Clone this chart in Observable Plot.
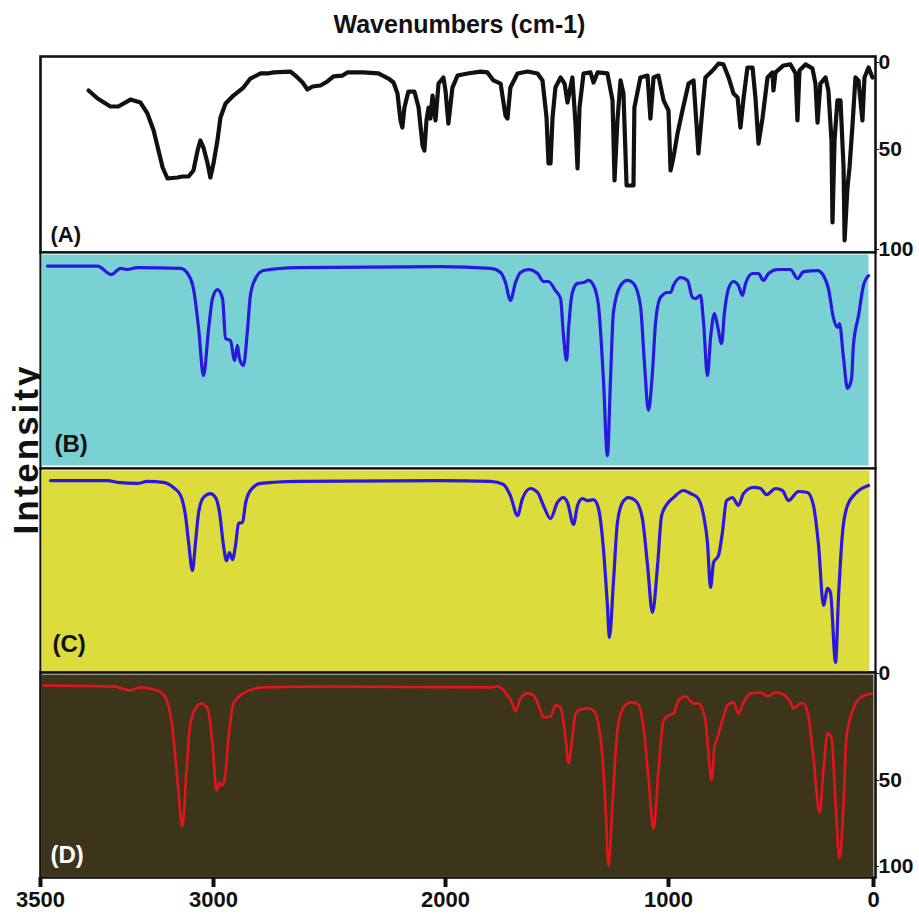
<!DOCTYPE html>
<html><head><meta charset="utf-8">
<script src="https://cdn.jsdelivr.net/npm/d3@7"></script>
<script src="https://cdn.jsdelivr.net/npm/@observablehq/plot@0.6"></script>
<style>
body{margin:0;background:#fff;}
#fig{position:relative;width:919px;height:915px;overflow:hidden;background:#fff;font-family:"Liberation Sans",Arial,sans-serif;}
#fig svg{position:absolute;left:0;top:0;}
.title{position:absolute;left:0;width:919px;top:12px;text-align:center;font-weight:bold;font-size:25px;line-height:25px;color:#111;}
.ylab{position:absolute;left:25px;top:449px;transform:translate(-50%,-50%) rotate(-90deg);font-weight:bold;font-size:35px;letter-spacing:3px;line-height:35px;white-space:nowrap;color:#111;}
</style></head>
<body><div id="fig"><div class="title">Wavenumbers (cm-1)</div><div class="ylab">Intensity</div></div>
<script>
// ---- data ----
const xTicks = [3500, 3000, 2000, 1000, 0];
const yTicks = [0, 50, 100];
const panelLabels = ["(A)", "(B)", "(C)", "(D)"];

const waveA = [3361,3335,3298,3275,3240,3211,3191,3173,3159,3147,3133,3104,3090,3072,3058,3046,3038,3029,3017,3009,3000,2983,2970,2948,2914,2871,2841,2797,2767,2741,2668,2638,2616,2595,2573,2539,2509,2483,2444,2423,2354,2289,2246,2224,2207,2194,2186,2177,2160,2134,2116,2099,2091,2082,2073,2065,2056,2043,2030,2009,2000,1987,1969,1946,1901,1843,1812,1785,1753,1731,1722,1709,1677,1632,1587,1565,1547,1538,1529,1520,1507,1484,1466,1453,1431,1417,1408,1399,1381,1350,1336,1318,1274,1251,1242,1229,1215,1202,1188,1157,1153,1126,1094,1081,1067,1045,1022,1000,990,976,956,932,902,878,859,854,834,820,785,756,732,707,683,663,649,634,615,590,576,561,541,517,493,488,478,439,405,380,371,361,332,298,283,273,259,234,220,205,200,190,176,161,146,141,127,117,102,88,73,54,44,24,5];
const intensityA = [16.1,20.7,25.3,25.3,21.3,23.0,29.3,39.1,50.5,59.0,64.5,64.0,63.5,63.5,60.5,50.5,44.8,48.9,57.0,64.0,57.0,44.8,31.6,23.6,19.0,14.4,9.2,6.3,6.3,5.7,5.2,8.6,11.5,15.5,13.8,13.2,10.9,8.0,7.5,5.7,5.7,6.3,9.2,11.5,17.8,33.3,37.4,25.9,16.7,16.7,25.9,47.7,50.5,33.3,25.9,32.2,19.0,33.3,12.1,8.6,16.1,35.1,14.4,7.5,6.3,5.2,5.7,10.3,12.1,30.5,32.2,14.4,6.3,5.2,6.3,10.3,31.6,57.0,57.0,31.6,14.4,8.6,12.1,23.0,8.6,35.1,59.5,25.9,6.3,5.7,11.5,5.7,6.3,21.8,65.5,33.3,10.3,17.8,68.0,68.0,25.9,8.6,7.5,32.2,8.6,7.5,21.8,27.6,60.5,54.0,40.8,27.6,12.1,10.3,43.1,52.0,25.9,8.6,4.6,0.6,1.1,8.6,17.8,20.1,37.4,20.7,2.9,2.9,20.1,46.6,31.6,8.6,5.7,16.1,5.7,1.7,1.1,6.3,33.3,4.6,1.1,3.4,12.1,34.5,12.1,8.6,16.1,44.8,86.5,44.8,21.8,21.8,59.0,95.5,69.0,59.0,35.1,8.6,10.3,33.3,8.6,2.9,8.6];

const waveB = [3480,3335,3295,3269,3249,3220,3095,3075,3058,3043,3029,3014,3003,2983,2961,2948,2927,2909,2897,2888,2871,2853,2841,2819,2785,2638,2022,1798,1753,1731,1709,1686,1664,1628,1587,1561,1538,1507,1484,1471,1457,1448,1431,1408,1381,1359,1336,1314,1292,1274,1260,1247,1215,1184,1157,1126,1108,1090,1072,1058,1036,1004,990,976,941,907,883,868,844,829,810,795,776,761,741,727,707,683,659,639,624,590,561,537,512,468,405,371,341,273,244,220,195,176,166,146,127,107,98,73,49,24];
const intensityB = [5.5,5.5,9.5,6.6,7.1,6.2,6.6,9.0,16.1,35.1,57.4,35.1,20.9,16.6,20.9,39.8,40.8,50.2,43.1,49.3,52.6,35.1,19.4,11.4,7.6,6.2,5.7,6.6,8.5,13.3,21.8,13.3,8.5,7.1,9.0,12.8,12.8,17.1,20.9,38.4,50.2,35.1,18.0,13.7,13.3,12.3,14.7,24.2,58.8,95.3,58.8,27.5,14.7,12.3,13.7,24.2,51.2,73.9,55.9,32.2,20.4,18.0,18.0,14.7,10.9,12.3,20.4,20.9,19.4,32.2,57.4,39.8,28.0,33.7,42.2,27.5,16.1,12.8,14.7,19.4,13.7,9.0,9.0,12.3,9.0,7.1,7.1,11.4,8.1,7.6,10.0,16.1,30.3,34.6,32.7,49.3,63.5,58.8,43.1,28.9,14.7,10.0];

const waveC = [3471,3306,3277,3220,3191,3145,3116,3095,3081,3072,3061,3052,3043,3029,3009,2991,2974,2957,2944,2931,2918,2905,2892,2875,2862,2841,2797,2638,2022,1798,1740,1709,1677,1655,1619,1587,1561,1529,1498,1471,1453,1426,1408,1386,1363,1336,1314,1292,1274,1265,1247,1229,1206,1180,1148,1117,1094,1072,1049,1031,1004,976,927,893,859,829,810,795,780,756,737,717,688,659,634,585,551,522,478,444,415,366,322,293,268,244,224,210,185,171,151,127,88,24];
const intensityC = [5.0,5.0,5.9,6.4,5.4,5.9,8.4,12.4,22.3,35.6,49.5,35.6,20.8,13.4,11.4,13.4,20.8,37.1,44.6,40.6,44.1,37.1,26.2,25.7,16.3,9.9,6.4,5.4,5.0,5.4,6.9,12.4,22.3,13.9,8.9,10.9,17.3,23.8,15.8,13.4,15.8,26.7,17.3,13.9,14.9,14.4,18.8,38.6,66.8,82.7,55.4,25.7,15.8,13.4,14.9,23.8,47.0,70.3,47.0,22.3,16.3,13.4,9.9,11.4,13.4,22.3,35.6,57.9,45.5,42.1,30.7,14.9,13.4,17.3,11.4,8.4,8.9,11.9,8.9,9.9,14.9,10.4,10.9,17.3,37.1,66.8,58.4,60.4,95.0,63.4,30.7,17.3,11.4,7.4];

const waveD = [3491,3289,3240,3211,3162,3139,3119,3104,3090,3078,3067,3046,3035,3017,3003,2987,2974,2966,2953,2935,2914,2866,2780,2496,1798,1767,1731,1700,1686,1664,1632,1605,1574,1561,1529,1507,1484,1462,1448,1431,1417,1395,1363,1336,1305,1283,1269,1251,1229,1202,1170,1139,1112,1090,1067,1045,1022,1000,976,951,917,878,854,820,805,790,776,761,737,712,683,659,634,600,551,517,478,439,405,390,356,341,317,293,263,244,224,205,185,166,146,132,102,63,10];
const intensityD = [5.6,6.1,7.9,6.5,7.9,11.2,25.2,50.0,76.7,45.3,23.4,14.9,14.0,16.3,32.7,55.8,51.2,52.9,50.0,29.9,14.0,8.9,6.5,6.1,6.5,6.1,8.9,14.0,17.7,11.7,9.3,10.3,17.3,20.5,20.1,14.9,15.9,29.9,42.0,29.9,18.7,16.8,16.3,17.3,29.9,63.4,99.5,63.4,26.6,15.9,13.5,14.0,25.2,48.6,78.1,45.3,21.9,19.6,18.7,12.6,10.7,14.0,14.0,21.9,37.4,50.0,34.6,29.9,21.9,14.9,13.5,18.7,13.5,9.3,8.9,10.7,8.9,9.8,13.5,16.3,14.0,14.0,20.5,39.3,68.6,45.3,28.0,29.9,63.4,95.3,63.4,29.9,17.3,11.2,9.3];

// ---- layout (scale options) ----
const W = 919, H = 915;
const FONT = "'Liberation Sans', Arial, Helvetica, sans-serif";
const xScale = {type: "linear", domain: xTicks, range: [40, 213, 445, 668, 873]};

function rightAxis() {
  return Plot.axisY({anchor: "right", ticks: yTicks, tickSize: 3, tickPadding: 0, fontSize: 21, fontWeight: "bold", fill: "#111", stroke: "#111", label: null});
}
function bottomAxis() {
  return Plot.axisX({anchor: "bottom", ticks: xTicks, tickFormat: d => String(d), tickSize: 10, tickPadding: 4, strokeWidth: 4, fontSize: 22, fontWeight: "bold", fill: "#111", stroke: "#111", label: null});
}

function panel(o) {
  const rows = o.wave.map((w, i) => ({w, v: o.value[i]}));
  const marks = [
    Plot.frame({fill: "white", stroke: "#111", strokeWidth: o.frameWidth || 2.2}),
    o.bg ? Plot.frame({fill: o.bg, ...o.inset}) : null,
    Plot.line(rows, {x: "w", y: "v", stroke: o.color, strokeWidth: o.lineWidth, curve: o.curve, strokeLinejoin: "round", strokeLinecap: "round"}),
    Plot.text([o.label], {text: d => d, frameAnchor: "bottom-left", lineAnchor: "middle", textAnchor: "start", dx: o.dx, dy: o.dy, fontSize: o.fontSize, fontWeight: "bold", fill: o.labelColor}),
    ...(o.axes || [])
  ];
  return Plot.plot({
    width: W, height: H,
    marginLeft: 40, marginRight: W - 875, marginTop: o.top, marginBottom: H - o.bottom,
    style: {background: "transparent", fontFamily: FONT, overflow: "visible"},
    x: {...xScale, ...(o.xAxis ? {} : {axis: null}), label: null},
    y: {type: "linear", domain: o.yDomain, range: o.yRange, ...(o.yAxis ? {} : {axis: null}), label: null},
    marks
  });
}

const fig = document.getElementById("fig");
fig.append(panel({
  wave: waveA, value: intensityA, top: 56, bottom: 252,
  yDomain: yTicks, yRange: [62, 149, 249], color: "#111", lineWidth: 4.2, curve: "linear",
  label: panelLabels[0], labelColor: "#111", fontSize: 22, dx: 10, dy: -18, frameWidth: 2.6,
  yAxis: true, axes: [rightAxis()]
}));
fig.append(panel({
  wave: waveB, value: intensityB, top: 252, bottom: 468,
  yDomain: [0, 100], yRange: [254, 465], bg: "#79d1d4",
  inset: {insetLeft: 1, insetTop: 2, insetRight: 7, insetBottom: 3},
  color: "#2a18e0", lineWidth: 3.2, curve: "monotone-x",
  label: panelLabels[1], labelColor: "#111", fontSize: 24, dx: 14, dy: -24
}));
fig.append(panel({
  wave: waveC, value: intensityC, top: 468, bottom: 672,
  yDomain: [0, 100], yRange: [470, 672], bg: "#dcdc3c",
  inset: {insetLeft: 1, insetTop: 2, insetRight: 6, insetBottom: 1},
  color: "#2a18e0", lineWidth: 3.2, curve: "monotone-x",
  label: panelLabels[2], labelColor: "#111", fontSize: 24, dx: 12, dy: -28
}));
fig.append(panel({
  wave: waveD, value: intensityD, top: 672, bottom: 877,
  yDomain: yTicks, yRange: [673, 780, 866], bg: "#3d3519",
  inset: {insetLeft: 1, insetTop: 2, insetRight: 2, insetBottom: 1},
  color: "#e3141c", lineWidth: 2.6, curve: "monotone-x",
  label: panelLabels[3], labelColor: "#ffffff", fontSize: 24, dx: 10, dy: -22, frameWidth: 2.6,
  xAxis: true, yAxis: true, axes: [rightAxis(), bottomAxis()]
}));
</script>
</body></html>
